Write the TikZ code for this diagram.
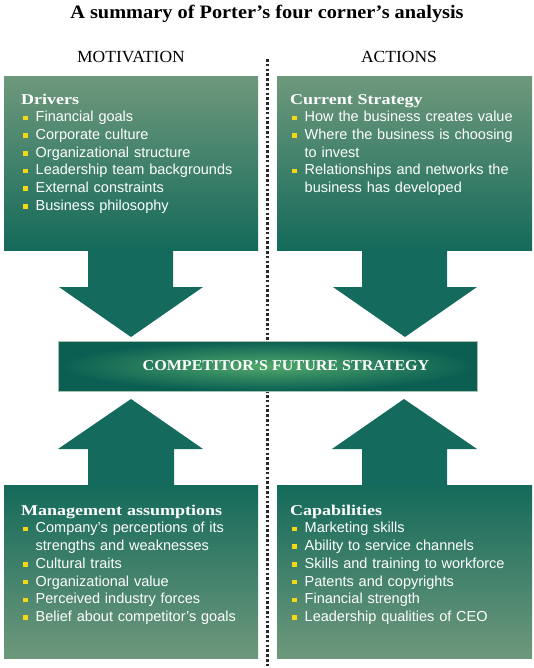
\documentclass[tikz,border=0pt]{standalone}
\usepackage{fontspec}
\setmainfont{Liberation Serif}
\setsansfont{Liberation Sans}
\newfontfamily\headfont[FakeStretch=1.2]{Liberation Serif Bold}
\newfontfamily\titlefont[FakeStretch=1.07]{Liberation Serif Bold}
\newfontfamily\colfont[FakeStretch=1.03]{Liberation Serif}
\definecolor{boxlight}{RGB}{110,152,124}
\definecolor{boxdark}{RGB}{20,106,90}
\definecolor{arrowgreen}{RGB}{20,106,92}
\definecolor{bulletyellow}{RGB}{245,215,20}
\definecolor{barcenter}{RGB}{80,168,106}
\definecolor{baredge}{RGB}{10,94,82}
\newcommand{\bitem}[1]{\par\hangindent=14.5pt\hangafter=1\noindent\makebox[14.5pt][l]{\hspace{2pt}\raisebox{1.7pt}{\color{bulletyellow}\rule{4.5pt}{4.5pt}}}#1}
\newcommand{\bhead}[1]{\noindent\rule{0pt}{12pt}{\headfont\fontsize{15}{17.7}\selectfont #1}}
\tikzset{
  topbox/.style={top color=boxlight, bottom color=boxdark, draw=none},
  botbox/.style={top color=boxdark, bottom color=boxlight, draw=none},
  bigarrow/.style={fill=arrowgreen, draw=none},
  boxtext/.style={anchor=north west, inner sep=0pt, text width=245pt, align=left, text=white,
    font=\sffamily\fontsize{14.5}{17.7}\selectfont},
  colhead/.style={font=\colfont\fontsize{17}{20}\selectfont},
  divider/.style={line width=3pt, dash pattern=on 2.6pt off 2.2pt, color=black!85}
}
\begin{document}
\begin{tikzpicture}[x=1pt,y=-1pt]
\useasboundingbox (0,0) rectangle (534,668);
% title and column headings
\node[font=\titlefont\fontsize{19}{22}\selectfont] (title) at (267,14) {A summary of Porter’s four corner’s analysis};
\node[colhead] (mot) at (131,57) {MOTIVATION};
\node[colhead] (act) at (399,57) {ACTIONS};
% divider
\coordinate (dtop) at (267,59);
\coordinate (dbot) at (267,668);
\draw[divider] (dtop) -- (dbot);
% top boxes
\path[topbox] (4,77) rectangle (258,250);
\path[topbox] (277,77) rectangle (532,250);
\path[bigarrow] (88,249.5) -- (173,249.5) -- (173,287) -- (203,287) -- (131,337) -- (59,287) -- (88,287) -- cycle;
\path[bigarrow] (362,249.5) -- (447,249.5) -- (447,287) -- (477,287) -- (405,337) -- (333,287) -- (362,287) -- cycle;
% bottom boxes
\path[botbox] (4,485) rectangle (258,658);
\path[botbox] (277,485) rectangle (532,658);
\path[bigarrow] (88,485.5) -- (174,485.5) -- (174,449) -- (203,449) -- (131,399) -- (58,449) -- (88,449) -- cycle;
\path[bigarrow] (362,485.5) -- (447,485.5) -- (447,449) -- (477,449) -- (404,399) -- (332,449) -- (362,449) -- cycle;
% centre bar
\node[minimum width=419pt, minimum height=50pt, inner sep=0pt, shading=radial, inner color=barcenter, outer color=baredge,
  draw=boxlight!60!white, line width=0.4pt] (bar) at (267.5,366) {};
\node[text=white, font=\titlefont\fontsize{15}{18}\selectfont] (bartext) at (286,366) {COMPETITOR’S FUTURE STRATEGY};
% box texts
\node[boxtext] (drivers) at (21,92) {\bhead{Drivers}
\bitem{Financial goals}
\bitem{Corporate culture}
\bitem{Organizational structure}
\bitem{Leadership team backgrounds}
\bitem{External constraints}
\bitem{Business philosophy}\par};
\node[boxtext] (current) at (290,92) {\bhead{Current Strategy}
\bitem{How the business creates value}
\bitem{Where the business is choosing\newline to invest}
\bitem{Relationships and networks the\newline business has developed}\par};
\node[boxtext] (mgmt) at (21,503) {\bhead{Management assumptions}
\bitem{Company’s perceptions of its\newline strengths and weaknesses}
\bitem{Cultural traits}
\bitem{Organizational value}
\bitem{Perceived industry forces}
\bitem{Belief about competitor’s goals}\par};
\node[boxtext] (cap) at (290,503) {\bhead{Capabilities}
\bitem{Marketing skills}
\bitem{Ability to service channels}
\bitem{Skills and training to workforce}
\bitem{Patents and copyrights}
\bitem{Financial strength}
\bitem{Leadership qualities of CEO}\par};
\end{tikzpicture}
\end{document}
